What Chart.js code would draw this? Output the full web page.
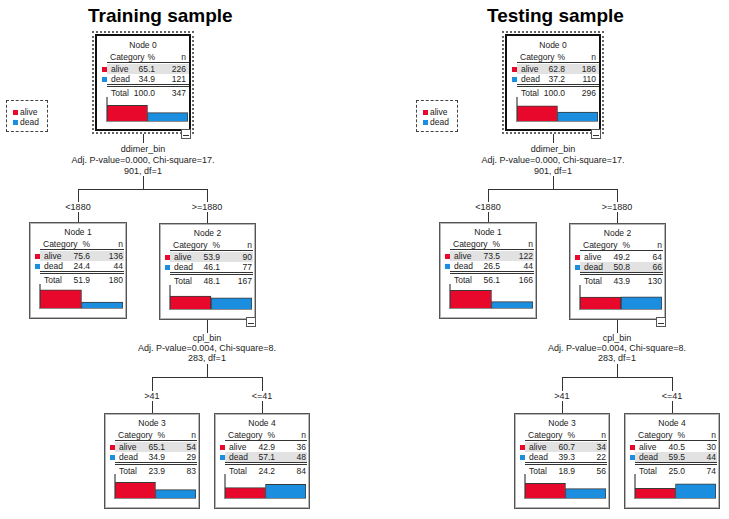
<!DOCTYPE html>
<html>
<head>
<meta charset="utf-8">
<script src="https://cdn.jsdelivr.net/npm/chart.js@4.4.1/dist/chart.umd.min.js"></script>
<style>
  body { margin: 0; background: #fff; }
  #stage { position: relative; width: 729px; height: 519px; overflow: hidden; font-family: Arial, "Liberation Sans", sans-serif; color: #222; }
  .abs { position: absolute; }
  .title { font-weight: bold; font-size: 19px; color: #000; white-space: nowrap; }
  .node { position: absolute; box-sizing: border-box; background: #fff; border: 1px solid #555; box-shadow: inset 0 0 0 1px #b5b5b5; font-size: 8.5px; }
  .node.root { border: 2px solid #111; box-shadow: none; }
  .dotted { position: absolute; box-sizing: border-box; border: 2px dotted #666; }
  .txt { position: absolute; white-space: nowrap; line-height: 10px; }
  .ln { position: absolute; background: #333; }
  .split { position: absolute; font-size: 9px; line-height: 10px; white-space: nowrap; transform: translateX(-50%); text-align: center; background: #fff; }
  .minus { position: absolute; width: 8px; height: 8px; border: 1px solid #555; background: #fff; }
  .minus::after { content: ''; position: absolute; left: 1px; right: 1px; top: 5px; height: 1px; background: #333; }
  .legend { position: absolute; box-sizing: border-box; border: 1px dashed #444; font-size: 8.5px; }
</style>
</head>
<body>
<div id="stage"></div>
<script>
// categories and colours
const categories = ['alive', 'dead'];
const barColors = ['#e8082c', '#1b8ee0'];

// node values, order: Node 0..4
const trainPct = [[65.1, 34.9], [75.6, 24.4], [53.9, 46.1], [65.1, 34.9], [42.9, 57.1]];
const trainN = [[226, 121], [136, 44], [90, 77], [54, 29], [36, 48]];
const trainTotalPct = [100.0, 51.9, 48.1, 23.9, 24.2];
const trainTotalN = [347, 180, 167, 83, 84];

const testPct = [[62.8, 37.2], [73.5, 26.5], [49.2, 50.8], [60.7, 39.3], [40.5, 59.5]];
const testN = [[186, 110], [122, 44], [64, 66], [34, 22], [30, 44]];
const testTotalPct = [100.0, 56.1, 43.9, 18.9, 25.0];
const testTotalN = [296, 166, 130, 56, 74];

// split labels
const split1Text = ['ddimer_bin', 'Adj. P-value=0.000, Chi-square=17.', '901, df=1'];
const split1Branches = ['<1880', '>=1880'];
const split2Text = ['cpl_bin', 'Adj. P-value=0.004, Chi-square=8.', '283, df=1'];
const split2Branches = ['>41', '<=41'];

const stage = document.getElementById('stage');

function el(cls, style, text) {
  const d = document.createElement('div');
  d.className = cls;
  Object.assign(d.style, style);
  if (text !== undefined) d.textContent = text;
  stage.appendChild(d);
  return d;
}
function hline(x1, x2, y) { el('ln', { left: x1 + 'px', top: y + 'px', width: (x2 - x1 + 1) + 'px', height: '1px' }); }
function vline(x, y1, y2) { el('ln', { left: x + 'px', top: y1 + 'px', width: '1px', height: (y2 - y1) + 'px' }); }

// draw one node box with its table and bar chart
function drawNode(num, x, y, w, h, pct, n, totPct, totN, root) {
  if (root) {
    el('dotted', { left: (x - 3) + 'px', top: (y - 3) + 'px', width: (w + 6) + 'px', height: (h + 6) + 'px' });
  }
  const node = el('node' + (root ? ' root' : ''), { left: x + 'px', top: y + 'px', width: w + 'px', height: h + 'px' });
  const add = (style, text) => {
    const d = document.createElement('div');
    d.className = style.cls || 'txt';
    delete style.cls;
    Object.assign(d.style, style);
    if (text !== undefined) d.textContent = text;
    node.appendChild(d);
    return d;
  };
  const major = pct[0] >= pct[1] ? 0 : 1;
  const pctRight = (w - 62) + 'px';
  add({ left: '0px', width: '100%', top: '4px', textAlign: 'center' }, 'Node ' + num);
  add({ left: '13px', top: '16px' }, 'Category');
  add({ right: pctRight, top: '16px' }, '%');
  add({ right: '3px', top: '16px' }, 'n');
  add({ cls: 'ln', left: '10px', width: (w - 14) + 'px', top: '26px', height: '1px' });
  categories.forEach((c, i) => {
    const ty = 28 + i * 10;
    if (i === major) add({ cls: 'ln', left: '10px', width: (w - 14) + 'px', top: ty + 'px', height: '10px', background: '#e2e2e2' });
    add({ cls: 'ln', left: '5px', top: (ty + 3) + 'px', width: '5px', height: '5px', background: barColors[i] });
    add({ left: '14px', top: ty + 'px' }, c);
    add({ right: pctRight, top: ty + 'px' }, pct[i].toFixed(1));
    add({ right: '3px', top: ty + 'px' }, String(n[i]));
  });
  add({ cls: 'ln', left: '10px', width: (w - 14) + 'px', top: '48px', height: '1px' });
  add({ cls: 'ln', left: '10px', width: (w - 14) + 'px', top: '50px', height: '1px' });
  add({ left: '14px', top: '52px' }, 'Total');
  add({ right: pctRight, top: '52px' }, totPct.toFixed(1));
  add({ right: '3px', top: '52px' }, String(totN));

  const cv = document.createElement('canvas');
  cv.width = w - 6; cv.height = 32;
  Object.assign(cv.style, { position: 'absolute', left: '1px', top: (h - 36) + 'px' });
  node.appendChild(cv);
  new Chart(cv, {
    type: 'bar',
    data: {
      labels: categories,
      datasets: [{
        data: pct,
        backgroundColor: barColors,
        borderColor: '#3a3a3a',
        borderWidth: 1,
        categoryPercentage: 1,
        barPercentage: 1
      }]
    },
    options: {
      responsive: false,
      animation: false,
      layout: { padding: { left: 1, right: 0, top: 0, bottom: 0 } },
      plugins: { legend: { display: false }, tooltip: { enabled: false } },
      scales: {
        x: { grid: { display: false }, ticks: { display: false }, border: { display: true, color: '#8c8c8c', width: 2 } },
        y: { min: 0, max: 100, grid: { display: false }, ticks: { display: false }, border: { display: true, color: '#8c8c8c', width: 2 } }
      }
    }
  });
}

function drawSide(dx, title, titleX, pcts, ns, totPcts, totNs) {
  el('abs title', { left: (titleX + dx) + 'px', top: '5px' }, title);

  // legend
  const lg = el('legend', { left: (6 + dx) + 'px', top: '100px', width: '42px', height: '32px' });
  categories.forEach((c, i) => {
    const sq = document.createElement('div');
    Object.assign(sq.style, { position: 'absolute', left: '6px', top: (9 + i * 10) + 'px', width: '5px', height: '5px', background: barColors[i] });
    lg.appendChild(sq);
    const t = document.createElement('div');
    t.className = 'txt';
    Object.assign(t.style, { left: '13px', top: (6 + i * 10) + 'px' });
    t.textContent = c;
    lg.appendChild(t);
  });

  // connectors, first split
  vline(143 + dx, 134, 143);
  split1Text.forEach((s, i) => el('split', { left: (143 + dx) + 'px', top: (144 + i * 11) + 'px' }, s));
  vline(143 + dx, 176, 189);
  hline(78 + dx, 207 + dx, 189);
  vline(78 + dx, 189, 222);
  vline(207 + dx, 189, 223);
  el('split', { left: (78 + dx) + 'px', top: '202px' }, split1Branches[0]);
  el('split', { left: (207 + dx) + 'px', top: '202px' }, split1Branches[1]);

  // second split
  vline(207 + dx, 320, 333);
  split2Text.forEach((s, i) => el('split', { left: (207 + dx) + 'px', top: (333 + i * 10) + 'px' }, s));
  vline(207 + dx, 364, 377);
  hline(152 + dx, 262 + dx, 377);
  vline(152 + dx, 377, 413);
  vline(262 + dx, 377, 413);
  el('split', { left: (152 + dx) + 'px', top: '391px' }, split2Branches[0]);
  el('split', { left: (262 + dx) + 'px', top: '391px' }, split2Branches[1]);

  const pos = [[95, 34, 96, 97], [29, 222, 98, 97], [159, 223, 97, 97], [104, 413, 96, 96], [214, 413, 96, 96]];
  pos.forEach((p, i) => {
    drawNode(i, p[0] + dx, p[1], p[2], p[3], pcts[i], ns[i], totPcts[i], totNs[i], i === 0);
  });

  // collapse boxes under nodes with children
  el('minus', { left: (181 + dx) + 'px', top: '129px' });
  el('minus', { left: (246 + dx) + 'px', top: '317px' });
}

drawSide(0, 'Training sample', 88, trainPct, trainN, trainTotalPct, trainTotalN);
drawSide(410, 'Testing sample', 77, testPct, testN, testTotalPct, testTotalN);
</script>
</body>
</html>
